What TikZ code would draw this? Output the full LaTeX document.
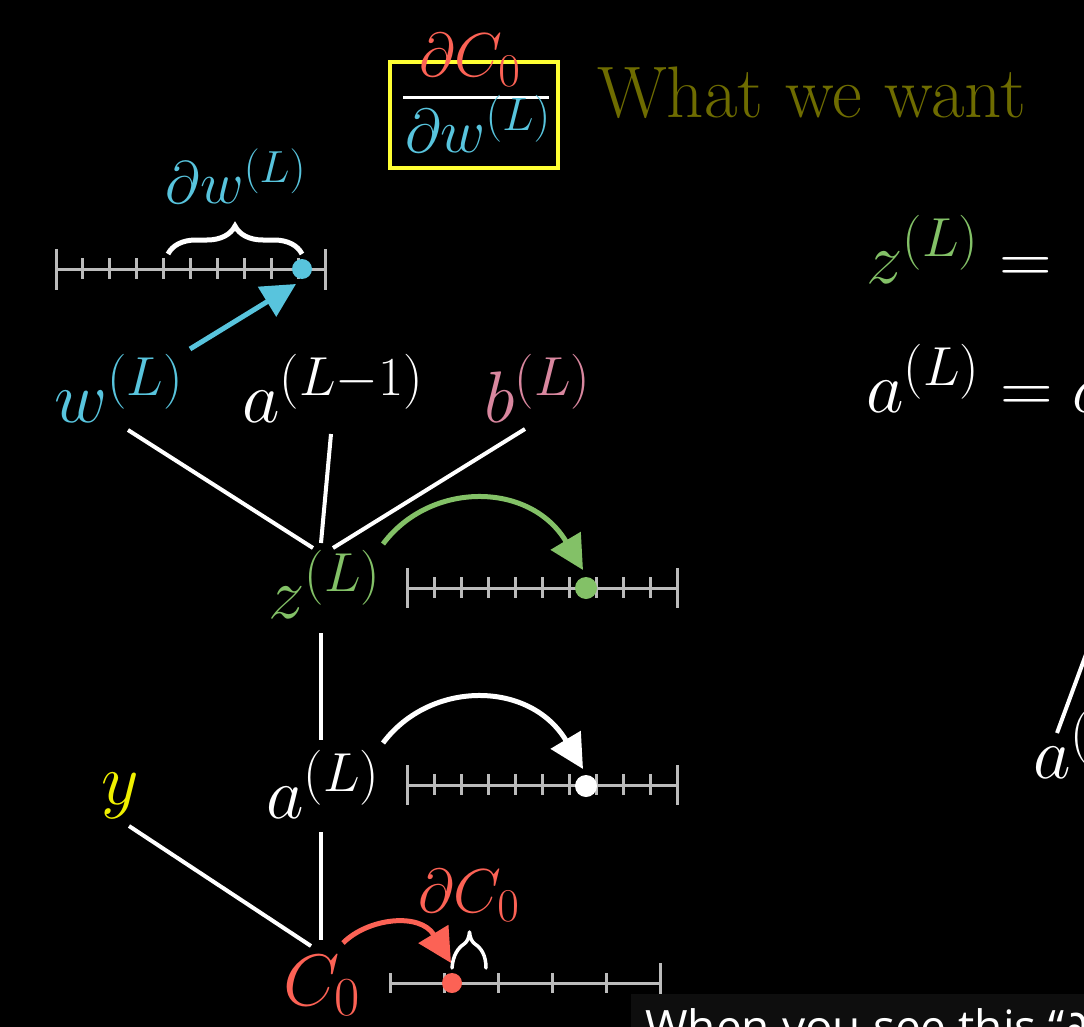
\documentclass[tikz,border=0pt]{standalone}
\usepackage{fix-cm}
\usepackage{fontspec}
\newfontfamily\subfont{Open Sans}
\newfontfamily\dejavu{DejaVu Sans}
\usetikzlibrary{arrows.meta,decorations.pathreplacing}
\DeclareMathSizes{73}{73}{55}{40}
\DeclareMathSizes{62}{62}{47}{34}
\DeclareMathSizes{60}{60}{45}{33}
\definecolor{bblue}{HTML}{58C4DD}
\definecolor{bgreen}{HTML}{83C167}
\definecolor{bred}{HTML}{FC6255}
\definecolor{bpink}{HTML}{D9879F}
\definecolor{byellow}{HTML}{FFFF33}
\definecolor{yvar}{HTML}{F0F000}
\definecolor{olive}{RGB}{110,108,0}
\definecolor{nlgray}{HTML}{BBBBBB}
\definecolor{subbg}{RGB}{14,14,14}
\tikzset{
  big/.style={text=white, inner sep=0pt, font=\fontsize{73}{85}\selectfont},
  mid/.style={inner sep=0pt, font=\fontsize{62}{74}\selectfont},
  small/.style={inner sep=0pt, font=\fontsize{60}{70}\selectfont},
  edge/.style={white, line width=4pt},
  nl/.style={nlgray, line width=3pt},
  curvearrow/.style={line width=5pt, -{Triangle[length=34pt,width=34pt]}},
}
\begin{document}
\begin{tikzpicture}[x=1pt,y=-1pt]
\useasboundingbox (0,0) rectangle (1084,1027);
\fill[black] (0,0) rectangle (1084,1027);
\clip (0,0) rectangle (1084,1027);

% ---- title
\draw[byellow, line width=4pt] (390,62) rectangle (558,168);
\node[mid, text=bred, anchor=base] (num) at (470,77) {$\partial C_0$};
\draw[white, line width=3pt] (403,98) -- (549,98);
\node[mid, text=bblue, anchor=base] (den) at (478,153) {$\partial w^{(L)}$};
\node[big, text=olive, anchor=base west] (want) at (597,118) {What we want};

% ---- top number line (w)
\draw[nl] (56,269) -- (325,269);
\foreach \i in {1,...,9} \draw[nl] ({56+26.9*\i},258) -- ++(0,21);
\draw[nl] (56,249) -- (56,290);
\draw[nl] (325,249) -- (325,290);
\fill[bblue] (302,269) circle (10);
\draw[white, line width=5pt, decorate, decoration={brace, amplitude=28pt}] (168,254) -- (302,254);
\node[small, text=bblue, anchor=base] (dw) at (236,204) {$\partial w^{(L)}$};
\coordinate (wtail) at (190,349);
\coordinate (wtip) at (296,284);
\draw[bblue, curvearrow] (wtail) -- (wtip);

% ---- tree nodes
\node[big, text=bblue, anchor=base west] (w) at (54,422) {$w^{(L)}$};
\node[big, anchor=base west] (aprev) at (242,422) {$a^{(L-1)}$};
\node[big, text=bpink, anchor=base west] (b) at (484,422) {$b^{(L)}$};
\node[big, text=bgreen, anchor=base west] (z) at (268,618) {$z^{(L)}$};
\node[big, anchor=base west] (a) at (266,818) {$a^{(L)}$};
\node[big, text=yvar, anchor=base west] (y) at (101,804) {$y$};
\node[big, text=bred, anchor=base west] (C) at (283,1005) {$C_0$};

\coordinate (w-o) at (128,430);
\coordinate (z-w) at (313,548);
\coordinate (ap-o) at (331,434);
\coordinate (z-ap) at (321,543);
\coordinate (b-o) at (525,429);
\coordinate (z-b) at (333,548);
\coordinate (z-o) at (321,633);
\coordinate (a-z) at (321,740);
\coordinate (a-o) at (321,832);
\coordinate (C-a) at (321,940);
\coordinate (y-o) at (129,826);
\coordinate (C-y) at (311,946);
\draw[edge] (w-o) -- (z-w);
\draw[edge] (ap-o) -- (z-ap);
\draw[edge] (b-o) -- (z-b);
\draw[edge] (z-o) -- (a-z);
\draw[edge] (a-o) -- (C-a);
\draw[edge] (y-o) -- (C-y);

% ---- z number line
\draw[nl] (407,588) -- (677,588);
\foreach \i in {1,...,9} \draw[nl] ({407+27*\i},577) -- ++(0,21);
\draw[nl] (407,568) -- (407,608);
\draw[nl] (677,568) -- (677,608);
\fill[bgreen] (586,588) circle (11);
\coordinate (zs) at (383,544);
\coordinate (ze) at (583,570);
\draw[bgreen, curvearrow] (zs) .. controls (430,481) and (530,481) .. (ze);

% ---- a number line
\draw[nl] (407,785) -- (677,785);
\foreach \i in {1,...,9} \draw[nl] ({407+27*\i},774) -- ++(0,21);
\draw[nl] (407,765) -- (407,805);
\draw[nl] (677,765) -- (677,805);
\fill[white] (586,786) circle (11);
\coordinate (as) at (383,743);
\coordinate (ae) at (583,769);
\draw[white, curvearrow] (as) .. controls (430,680) and (530,680) .. (ae);

% ---- C number line
\draw[nl] (390,983) -- (660,983);
\foreach \i in {0,...,4} \draw[nl] ({390+54*\i},973) -- ++(0,20);
\draw[nl] (660,963) -- (660,1003);
\fill[bred] (452,983) circle (10);
\coordinate (cs) at (343,943);
\coordinate (ce) at (451,963);
\draw[bred, curvearrow] (cs) .. controls (368,918) and (420,912) .. (ce);
\draw[white, line width=3.5pt, line cap=round, line join=round]
  (452,968) .. controls (453,955) and (458,948) .. (464,944)
  .. controls (467,942) and (469,938) .. (469.5,932)
  .. controls (470,938) and (472,942) .. (475,944)
  .. controls (481,948) and (486,955) .. (486,968);
\node[mid, text=bred, anchor=base] (dC) at (469,912) {$\partial C_0$};

% ---- right side equations
\node[big, anchor=base west] (eqz) at (866,283) {$\textcolor{bgreen}{z^{(L)}} \mathrel{=}\mkern3mu w^{(L)} a^{(L-1)} + b^{(L)}$};
\node[big, anchor=base west] (eqa) at (866,412) {$a^{(L)} = \sigma(z^{(L)})$};
\node[big, anchor=base west] (ar) at (1033,778) {$a^{(L-1)}$};
\coordinate (ar-o) at (1057,733);
\coordinate (ar-up) at (1095,630);
\draw[edge] (ar-o) -- (ar-up);

% ---- subtitle
\fill[subbg] (631,994) rectangle (1100,1060);
\node[inner sep=0pt, anchor=base west, text=white, font=\subfont\fontsize{46}{54}\selectfont] (sub) at (645,1043) {When you see this “{\dejavu∂}”};
\end{tikzpicture}
\end{document}
